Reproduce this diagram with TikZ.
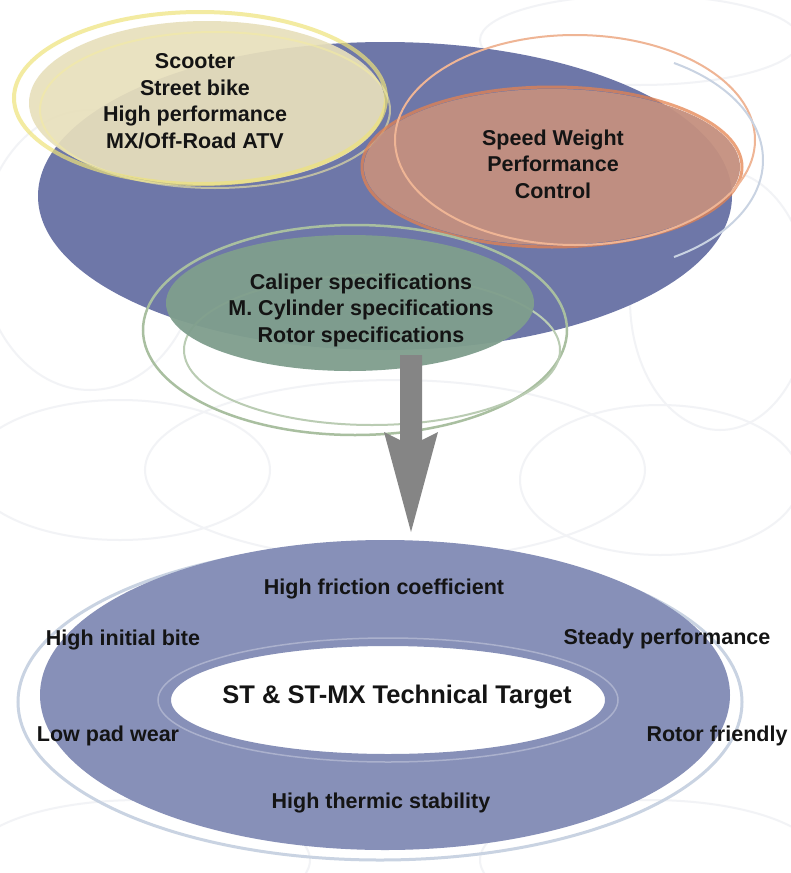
\documentclass[tikz,border=0pt]{standalone}
\usepackage{fontspec}
\setmainfont{Liberation Sans}
\usetikzlibrary{calc}
\definecolor{discblue}{HTML}{6E77A8}
\definecolor{ringblue}{HTML}{8790B8}
\definecolor{creamfill}{HTML}{E8E0BC}
\definecolor{yellowline}{HTML}{EEE37A}
\definecolor{orangefill}{HTML}{C4907F}
\definecolor{orangeline}{HTML}{E5834F}
\definecolor{greenfill}{HTML}{7F9E8D}
\definecolor{greenline}{HTML}{A9BFA0}
\definecolor{arrowgray}{HTML}{858585}
\definecolor{faint}{HTML}{F2F3F6}
\definecolor{paleblue}{HTML}{C9D3E2}
\tikzset{
  lbl/.style={font=\bfseries\fontsize{21.5}{26.5}\selectfont, text=black!92, align=center, inner sep=0pt},
  biglbl/.style={font=\bfseries\fontsize{25.5}{30}\selectfont, text=black!92, align=center, inner sep=0pt},
  swirl/.style={draw=faint, line width=2pt},
}
\begin{document}
\begin{tikzpicture}[x=1pt,y=-1pt]
\useasboundingbox (0,0) rectangle (790,873);
\fill[white] (0,0) rectangle (790,873);
% faint background swirls
\draw[swirl] (120,470) ellipse (150 and 70);
\draw[swirl] (660,480) ellipse (140 and 75);
\draw[swirl] (395,470) ellipse (250 and 90);
\draw[swirl] (90,250) ellipse (110 and 140);
\draw[swirl] (720,300) ellipse (90 and 130);
\draw[swirl] (640,40) ellipse (160 and 45);
\draw[swirl] (140,860) ellipse (170 and 60);
\draw[swirl] (650,860) ellipse (170 and 60);
% ---- upper composition ----
\fill[discblue] (385,196) ellipse (347 and 154);
% yellow
\fill[creamfill, opacity=0.92] (207,103) ellipse (178 and 82);
\draw[yellowline, line width=4pt, opacity=0.7] (200,98) ellipse (186 and 86);
\draw[yellowline!70!white, line width=2pt, opacity=0.6] (215,110) ellipse (175 and 78);
% orange
\fill[orangefill, opacity=0.95] (552,167) ellipse (188 and 78);
\draw[orangeline, line width=3pt, opacity=0.75] (552,167) ellipse (190 and 80);
\draw[orangeline!60!white, line width=2pt] (575,140) ellipse (180 and 105);
\draw[paleblue, line width=2pt] (585,160) ++(-60:178 and 112) arc[start angle=-60, end angle=60, x radius=178, y radius=112];
% green outlines below
\draw[greenline, line width=2.5pt] (355,330) ellipse (212 and 105);
\draw[greenline!80!white, line width=2pt] (372,350) ellipse (188 and 75);
% green
\fill[greenfill, opacity=0.95] (350,303) ellipse (184 and 68);
% ---- lower ring ----
\draw[paleblue, line width=3pt] (380,702) ellipse (362 and 158);
\fill[ringblue, even odd rule] (385,695) ellipse (345 and 155) (388,700) ellipse (217 and 54);
\draw[ringblue!70!white, line width=1.5pt] (388,700) ellipse (230 and 62);
% ---- texts ----
\node[lbl] (uses) at (195,101) {Scooter\\Street bike\\High performance\\MX/Off-Road ATV};
\node[lbl] (needs) at (553,164) {Speed Weight\\Performance\\Control};
\node[lbl] (specs) at (361,310) {Caliper specifications\\M. Cylinder specifications\\Rotor specifications};
\node[biglbl] (target) at (397,697) {ST \& ST-MX Technical Target};
\node[lbl] (fric) at (384,589) {High friction coefficient};
\node[lbl] (bite) at (123,640) {High initial bite};
\node[lbl] (steady) at (667,639) {Steady performance};
\node[lbl] (wear) at (108,736) {Low pad wear};
\node[lbl] (rotor) at (717,736) {Rotor friendly};
\node[lbl] (therm) at (381,803) {High thermic stability};
% ---- arrow ----
\coordinate (atop) at (411,355);
\coordinate (atip) at (411,532);
\fill[arrowgray] ($(atop)+(-11,0)$) -- ($(atop)+(-11,85)$) -- ($(atop)+(-27,77)$) -- (atip)
  -- ($(atop)+(27,77)$) -- ($(atop)+(11,85)$) -- ($(atop)+(11,0)$) -- cycle;
\end{tikzpicture}
\end{document}
